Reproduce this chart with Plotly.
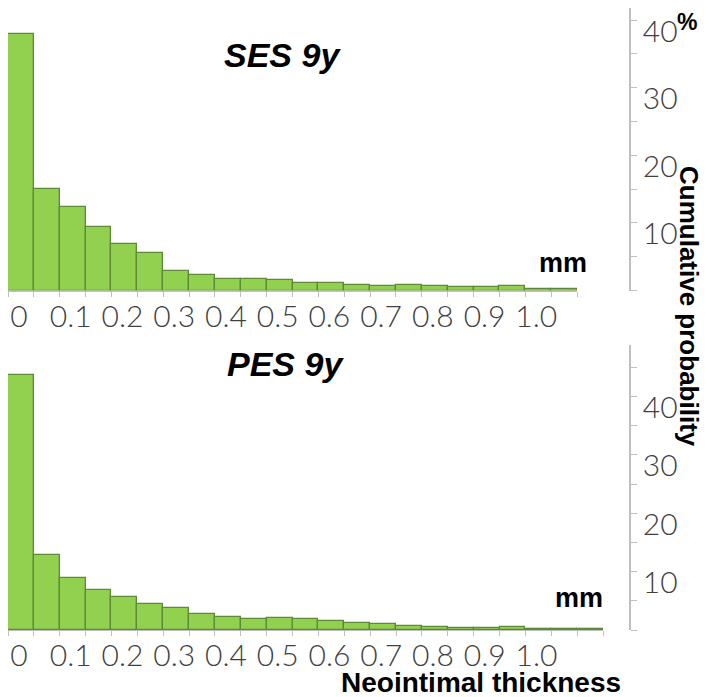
import plotly.graph_objects as go

# page body has an 8px default margin, so the figure is drawn 8px in from the top-left
OFF = 8
W, H = 709 - OFF, 697 - OFF

# ---- data ----
bin_width = 0.05
ses_values = [38.0, 15.0, 12.3, 9.45, 6.9, 5.5, 2.9, 2.3, 1.66, 1.66, 1.55, 1.15,
              1.15, 0.8, 0.67, 0.8, 0.67, 0.56, 0.56, 0.7, 0.27, 0.27]
pes_values = [43.6, 12.9, 8.9, 6.8, 5.6, 4.4, 3.7, 2.8, 2.2, 1.8, 2.0, 1.85,
              1.6, 1.2, 1.05, 0.77, 0.6, 0.37, 0.37, 0.5, 0.15, 0.15, 0.15]
x_tick_labels = ["0", "0.1", "0.2", "0.3", "0.4", "0.5", "0.6", "0.7", "0.8", "0.9", "1.0"]
y_tick_labels = ["10", "20", "30", "40"]
titles = ["SES 9y", "PES 9y"]

ses_x = [bin_width * (i + 0.5) for i in range(len(ses_values))]
pes_x = [bin_width * (i + 0.5) for i in range(len(pes_values))]

BAR_FILL = "#92D050"
BAR_LINE = "#5E8A3A"
AXIS_GRAY = "#BFBFBF"
TICK_FONT = dict(family="Lato, 'Open Sans', sans-serif", size=30, color="#404040", weight=300)

fig = go.Figure()
fig.add_trace(go.Bar(x=ses_x, y=ses_values, width=bin_width, xaxis="x", yaxis="y",
                     marker=dict(color=BAR_FILL, line=dict(color=BAR_LINE, width=1.3)),
                     showlegend=False, hoverinfo="skip"))
fig.add_trace(go.Bar(x=pes_x, y=pes_values, width=bin_width, xaxis="x2", yaxis="y2",
                     marker=dict(color=BAR_FILL, line=dict(color=BAR_LINE, width=1.3)),
                     showlegend=False, hoverinfo="skip"))


def px_x(p):
    return min(1.0, max(0.0, (p - OFF) / W))


def px_y(p):
    return min(1.0, max(0.0, 1 - (p - OFF) / H))


def x_ticks(n_bins):
    vals, texts = [], []
    for i in range(n_bins + 1):
        vals.append(round(i * bin_width, 3))
        if i % 2 == 0 and i // 2 < len(x_tick_labels):
            texts.append(x_tick_labels[i // 2])
        else:
            texts.append("")
    return vals, texts


def y_ticks(top):
    vals, texts = [], []
    v = 0
    while v <= top:
        vals.append(v)
        if v > 0 and v % 10 == 0 and v // 10 - 1 < len(y_tick_labels):
            texts.append(y_tick_labels[v // 10 - 1])
        else:
            texts.append("")
        v += 5
    return vals, texts


xv1, xt1 = x_ticks(22)
xv2, xt2 = x_ticks(23)
yv1, yt1 = y_ticks(40)
yv2, yt2 = y_ticks(45)

xcommon = dict(showgrid=False, zeroline=False, showline=True, linecolor=AXIS_GRAY, linewidth=1.2,
               ticks="outside", ticklen=5, tickcolor=AXIS_GRAY, tickwidth=1.2,
               tickfont=TICK_FONT, ticklabelshift=11, ticklabelstandoff=-6,
               ticklabeloverflow="allow", automargin=False, fixedrange=True)
ycommon = dict(showgrid=False, zeroline=False, showline=True, linecolor=AXIS_GRAY, linewidth=1.5,
               ticks="outside", ticklen=6, tickcolor=AXIS_GRAY, tickwidth=1.2,
               tickfont=TICK_FONT, ticklabelshift=11, side="right", anchor="free",
               ticklabeloverflow="allow",
               position=px_x(630), automargin=False, fixedrange=True)

fig.update_layout(
    width=W, height=H,
    margin=dict(l=0, r=0, t=0, b=0, autoexpand=False),
    paper_bgcolor="white", plot_bgcolor="white",
    bargap=0,
    xaxis=dict(domain=[px_x(8), px_x(577)], range=[0, 1.1], anchor="y",
               tickmode="array", tickvals=xv1, ticktext=xt1, **xcommon),
    yaxis=dict(domain=[px_y(290.5), px_y(8)], range=[0, 41.8],
               tickmode="array", tickvals=yv1, ticktext=yt1, **ycommon),
    xaxis2=dict(domain=[px_x(8), px_x(603)], range=[0, 1.15], anchor="y2",
                tickmode="array", tickvals=xv2, ticktext=xt2, **xcommon),
    yaxis2=dict(domain=[px_y(630), px_y(345)], range=[0, 48.8],
                tickmode="array", tickvals=yv2, ticktext=yt2, **ycommon),
)

TITLE_FONT = dict(family="Liberation Sans, Arial, sans-serif", size=34, color="black",
                  weight="bold", style="italic")
BOLD = dict(family="Liberation Sans, Arial, sans-serif", color="black", weight="bold")

annotations = [
    dict(text=titles[0], x=px_x(282), y=px_y(55), font=TITLE_FONT),
    dict(text=titles[1], x=px_x(285), y=px_y(364), font=TITLE_FONT),
    dict(text="mm", x=px_x(563), y=px_y(263), font=dict(size=27, **BOLD)),
    dict(text="mm", x=px_x(579), y=px_y(598), font=dict(size=27, **BOLD)),
    dict(text="%", x=px_x(687), y=px_y(22), font=dict(size=23, **BOLD)),
    dict(text="Cumulative probability", x=px_x(689), y=px_y(306), textangle=90,
         font=dict(size=26, **BOLD)),
    dict(text="Neointimal thickness", x=px_x(481), y=px_y(682), font=dict(size=28, **BOLD)),
]
for a in annotations:
    a.update(xref="paper", yref="paper", showarrow=False, xanchor="center", yanchor="middle")
fig.update_layout(annotations=annotations)

fig.write_html("out.html")
